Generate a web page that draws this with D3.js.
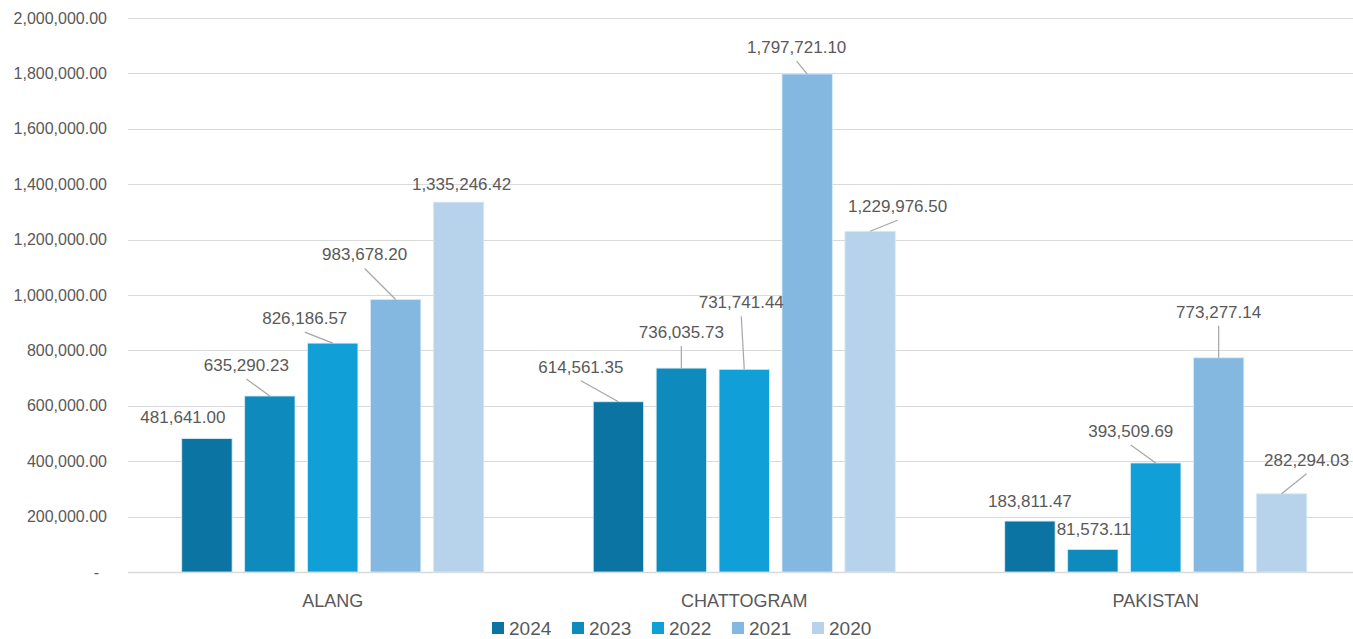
<!DOCTYPE html>
<html>
<head>
    <title>Ship Recycling by Location</title>
    <script src="https://cdnjs.cloudflare.com/ajax/libs/d3/7.8.5/d3.min.js"></script>
    <style>
        html, body {
            margin: 0;
            padding: 0;
            background: white;
            font-family: 'Liberation Sans', Arial, sans-serif;
            overflow: hidden;
        }
        #chart { width: 1353px; height: 639px; }
    </style>
</head>
<body>
    <div id="chart"></div>
    <script>
        const locations = ["ALANG", "CHATTOGRAM", "PAKISTAN"];
        const years = ["2024", "2023", "2022", "2021", "2020"];
        const colors = ["#0b74a2", "#0f8abd", "#119fd7", "#85b8e0", "#b7d3eb"];

        // values per year, in the order of locations
        const values2024 = [481641.00, 614561.35, 183811.47];
        const values2023 = [635290.23, 736035.73, 81573.11];
        const values2022 = [826186.57, 731741.44, 393509.69];
        const values2021 = [983678.20, 1797721.10, 773277.14];
        const values2020 = [1335246.42, 1229976.50, 282294.03];
        const yTicks = [0, 200000, 400000, 600000, 800000, 1000000, 1200000, 1400000, 1600000, 1800000, 2000000];

        // label nudges (dx, dy in px from bar top centre), like Excel's dragged labels
        const labelNudge = [
            [[-24, -22], [-23.5, -31], [-28, -25], [-31, -45], [3, -18]],
            [[-37.5, -35], [0, -36], [-3, -67], [-10.5, -27], [27.5, -25]],
            [[0, -20], [1, -20], [-25, -32], [0, -46], [25, -34]]
        ];
        const leader = [
            [false, true, true, true, false],
            [true, true, true, true, true],
            [false, false, true, true, true]
        ];

        const seriesValues = [values2024, values2023, values2022, values2021, values2020];
        const rows = [];
        locations.forEach((loc, li) => {
            years.forEach((yr, yi) => {
                rows.push({ loc, li, yr, yi, value: seriesValues[yi][li] });
            });
        });

        const width = 1353, height = 639;
        const margin = { top: 18, bottom: 67, left: 127 };
        const bandStep = 411.5;

        const svg = d3.select("#chart").append("svg")
            .attr("width", width)
            .attr("height", height);

        const x0 = d3.scaleBand()
            .domain(locations)
            .range([margin.left, margin.left + bandStep * locations.length])
            .paddingInner(0)
            .paddingOuter(0);

        const groupWidth = 302;
        const x1 = d3.scaleBand()
            .domain(years)
            .range([0, groupWidth])
            .paddingInner(0.2)
            .paddingOuter(0);

        const y = d3.scaleLinear()
            .domain([0, 2000000])
            .range([height - margin.bottom, margin.top]);

        const fmt = d3.format(",.2f");
        const textColor = "#595959";

        // gridlines
        svg.append("g")
            .selectAll("line")
            .data(yTicks)
            .enter()
            .append("line")
            .attr("x1", margin.left + 1)
            .attr("x2", width)
            .attr("y1", d => Math.round(y(d)) + 0.5)
            .attr("y2", d => Math.round(y(d)) + 0.5)
            .attr("stroke", "#d9d9d9")
            .attr("stroke-width", d => d === 0 ? 1.5 : 1.2);

        // y tick labels
        svg.append("g")
            .selectAll("text")
            .data(yTicks)
            .enter()
            .append("text")
            .attr("x", d => d === 0 ? 99 : 107)
            .attr("y", d => y(d))
            .attr("dy", "0.35em")
            .attr("text-anchor", "end")
            .attr("font-size", "16px")
            .attr("fill", textColor)
            .text(d => d === 0 ? "-" : fmt(d));

        const groupX = loc => x0(loc) + (x0.bandwidth() - groupWidth) / 2;
        const barX = d => groupX(d.loc) + x1(d.yr);

        // bars
        svg.append("g")
            .selectAll("rect")
            .data(rows)
            .enter()
            .append("rect")
            .attr("x", barX)
            .attr("y", d => y(d.value))
            .attr("width", x1.bandwidth())
            .attr("height", d => y(0) - y(d.value))
            .attr("fill", d => colors[d.yi])
            .attr("stroke", "#d6ebf5")
            .attr("stroke-width", 0.8);

        // label anchor points
        const lx = d => barX(d) + x1.bandwidth() / 2;
        const labelX = d => lx(d) + labelNudge[d.li][d.yi][0];
        const labelY = d => y(d.value) + labelNudge[d.li][d.yi][1];

        // leader lines: from bar top to bottom of label
        svg.append("g")
            .selectAll("line")
            .data(rows.filter(d => leader[d.li][d.yi]))
            .enter()
            .append("line")
            .attr("x1", lx)
            .attr("y1", d => y(d.value))
            .attr("x2", labelX)
            .attr("y2", d => labelY(d) + 14)
            .attr("stroke", "#a6a6a6")
            .attr("stroke-width", 1.2);

        // data labels
        svg.append("g")
            .selectAll("text")
            .data(rows)
            .enter()
            .append("text")
            .attr("x", labelX)
            .attr("y", labelY)
            .attr("dy", "0.35em")
            .attr("text-anchor", "middle")
            .attr("font-size", "17px")
            .attr("fill", textColor)
            .text(d => fmt(d.value));

        // category labels
        svg.append("g")
            .selectAll("text")
            .data(locations)
            .enter()
            .append("text")
            .attr("x", d => x0(d) + x0.bandwidth() / 2)
            .attr("y", 601)
            .attr("dy", "0.35em")
            .attr("text-anchor", "middle")
            .attr("font-size", "18px")
            .attr("fill", textColor)
            .text(d => d);

        // legend
        const legend = svg.append("g")
            .selectAll("g")
            .data(years)
            .enter()
            .append("g")
            .attr("transform", (d, i) => `translate(${492 + i * 80},628)`);

        legend.append("rect")
            .attr("x", 0)
            .attr("y", -6)
            .attr("width", 12)
            .attr("height", 12)
            .attr("fill", (d, i) => colors[i]);

        legend.append("text")
            .attr("x", 17)
            .attr("y", 0)
            .attr("dy", "0.35em")
            .attr("font-size", "19px")
            .attr("fill", textColor)
            .text(d => d);
    </script>
</body>
</html>
